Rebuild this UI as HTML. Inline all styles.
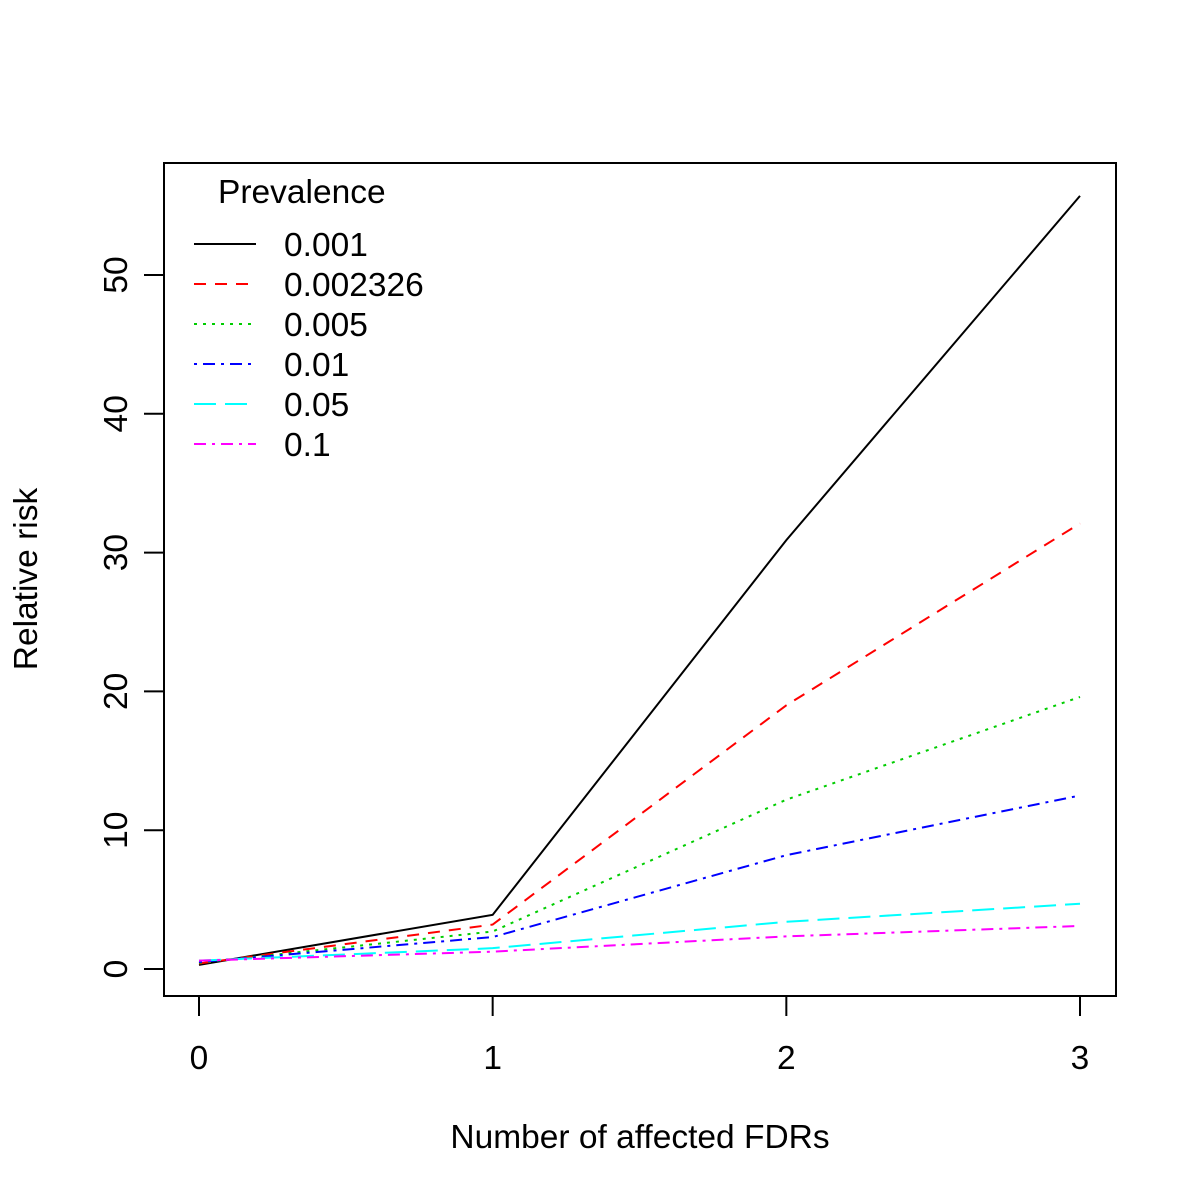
<!DOCTYPE html>
<html><head><meta charset="utf-8"><style>body{margin:0;background:#fff}svg{display:block}text{font-family:"Liberation Sans",Arial,sans-serif;fill:#000}</style></head>
<body>
<svg id="chart" width="1200" height="1200" viewBox="0 0 1200 1200">
<rect x="164" y="163" width="952" height="833" fill="none" stroke="#000" stroke-width="2"/>
<g id="axes"></g><g id="series"></g><g id="legend"></g>
<text x="640" y="1148" font-size="33.5" text-anchor="middle">Number of affected FDRs</text>
<text x="37" y="579" font-size="33.5" text-anchor="middle" transform="rotate(-90 37 579)">Relative risk</text>
</svg>
<script>
const categories = [0, 1, 2, 3];
const xTicks = [0, 1, 2, 3];
const yTicks = [0, 10, 20, 30, 40, 50];
const seriesNames = ["0.001", "0.002326", "0.005", "0.01", "0.05", "0.1"];
const s1 = [0.3, 3.9, 30.9, 55.7];
const s2 = [0.4, 3.2, 19.0, 32.1];
const s3 = [0.45, 2.7, 12.2, 19.6];
const s4 = [0.5, 2.3, 8.2, 12.5];
const s5 = [0.6, 1.5, 3.4, 4.7];
const s6 = [0.6, 1.25, 2.35, 3.1];
const seriesValues = [s1, s2, s3, s4, s5, s6];
const colors = ["#000", "#ff0000", "#00cd00", "#0000ff", "#00ffff", "#ff00ff"];
const dashes = ["", "12,9", "3,6", "3,6,12,6", "22,9", "12,6,3,6"];
const NS = "http://www.w3.org/2000/svg";
const xS = v => 199 + v * (1080 - 199) / 3;
const yS = v => 969 - v * (969 - 275) / 50;
function mk(tag, attrs, parent) { const e = document.createElementNS(NS, tag); for (const k in attrs) e.setAttribute(k, attrs[k]); parent.appendChild(e); return e; }
const ax = document.getElementById('axes');
const xl = mk('line', {x1: xS(0), x2: xS(3), y1: 996, y2: 996, stroke: '#000', 'stroke-width': 2}, ax);


xTicks.forEach(t => {
  const l = mk('line', {x1: xS(t), x2: xS(t), y1: 996, y2: 1016, stroke: '#000', 'stroke-width': 2}, ax);
  
  
  const tx = mk('text', {x: xS(t), y: 1069, 'font-size': 33.5, 'text-anchor': 'middle'}, ax);
  tx.textContent = t;
  
  
});
const yl = mk('line', {x1: 164, x2: 164, y1: yS(0), y2: yS(50), stroke: '#000', 'stroke-width': 2}, ax);


yTicks.forEach(t => {
  const l = mk('line', {x1: 144, x2: 164, y1: yS(t), y2: yS(t), stroke: '#000', 'stroke-width': 2}, ax);
  
  
  const tx = mk('text', {x: 127, y: yS(t), 'font-size': 33.5, 'text-anchor': 'middle', transform: `rotate(-90 127 ${yS(t)})`}, ax);
  tx.textContent = t;
  
  
});
const sg = document.getElementById('series');
seriesValues.forEach((vals, i) => {
  const p = mk('polyline', {points: vals.map((v, j) => xS(categories[j]) + ',' + yS(v)).join(' '), fill: 'none', stroke: colors[i], 'stroke-width': 2, 'stroke-dasharray': dashes[i]}, sg);
  
  
});
const lg = document.getElementById('legend');
const lt = mk('text', {x: 218, y: 203, 'font-size': 33.5}, lg);
lt.textContent = 'Prevalence';


seriesNames.forEach((n, i) => {
  const y = 244 + i * 40;
  const l = mk('line', {x1: 194, x2: 256, y1: y, y2: y, stroke: colors[i], 'stroke-width': 2, 'stroke-dasharray': dashes[i]}, lg);
  
  
  const t = mk('text', {x: 284, y: y + 12, 'font-size': 33.5}, lg);
  t.textContent = n;
  
  
});
</script>
</body></html>
